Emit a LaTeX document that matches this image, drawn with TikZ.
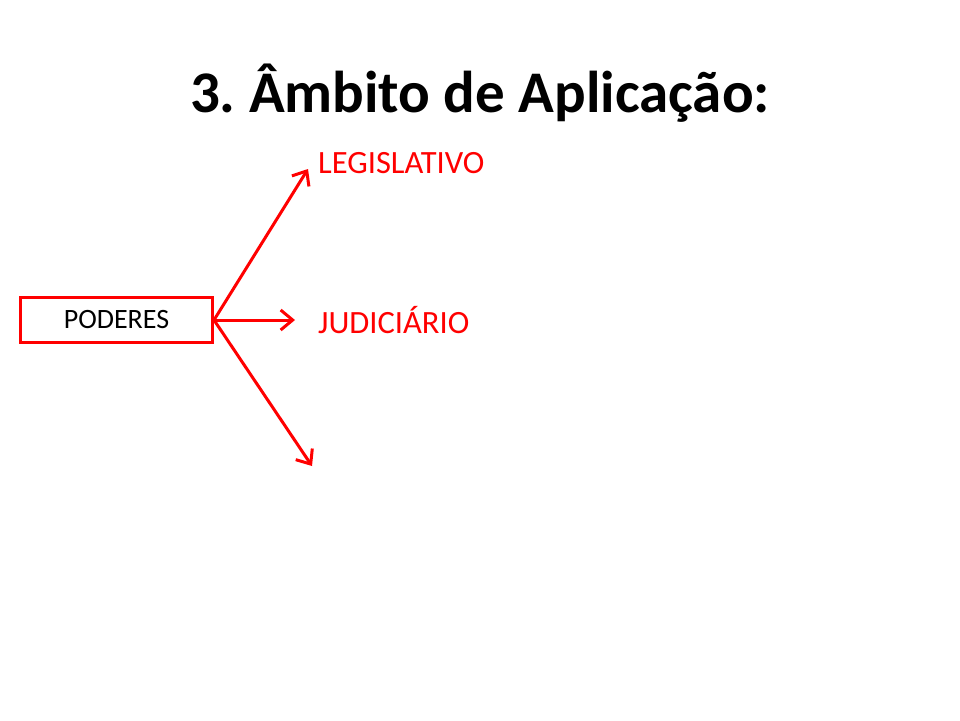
\documentclass[tikz,border=0pt]{standalone}
\usepackage{fontspec}
\setmainfont{Carlito}
\usepackage{xcolor}
\usepackage{tikz}
\usetikzlibrary{arrows.meta}
\definecolor{pptred}{RGB}{255,0,0}
\tikzstyle{arrow} = [draw=pptred, line width=3pt, -{Straight Barb[length=12pt, width=20pt, line width=3pt]}]
\tikzstyle{box} = [draw=pptred, line width=3pt, minimum width=192pt, minimum height=45pt, inner sep=0pt, font=\fontsize{28}{30}\selectfont]
\tikzstyle{label} = [text=pptred, anchor=base west, inner sep=0pt, font=\fontsize{32.5}{36}\selectfont]
\frenchspacing

\begin{document}
\begin{tikzpicture}[x=1pt, y=-1pt]
		\useasboundingbox (0,0) rectangle (960,720);

		\node (title) [anchor=base, inner sep=0pt, font=\fontsize{59}{64}\selectfont\bfseries] at (480,112) {3. Âmbito de Aplicação:};

		\node (poderes) [box] at (116.5,320) {\raisebox{-3pt}{PODERES}};
		\node (legis) [label] at (318,173) {LEGISLATIVO};
		\node (judic) [label] at (318,333) {JUDICIÁRIO};

		\coordinate (legisend) at (308,169);
		\coordinate (judicend) at (295,320);
		\coordinate (thirdend) at (312,466);

		\draw [arrow] (poderes.east) -- (legisend);
		\draw [arrow] (poderes.east) -- (judicend);
		\draw [arrow] (poderes.east) -- (thirdend);
	\end{tikzpicture}
\end{document}
